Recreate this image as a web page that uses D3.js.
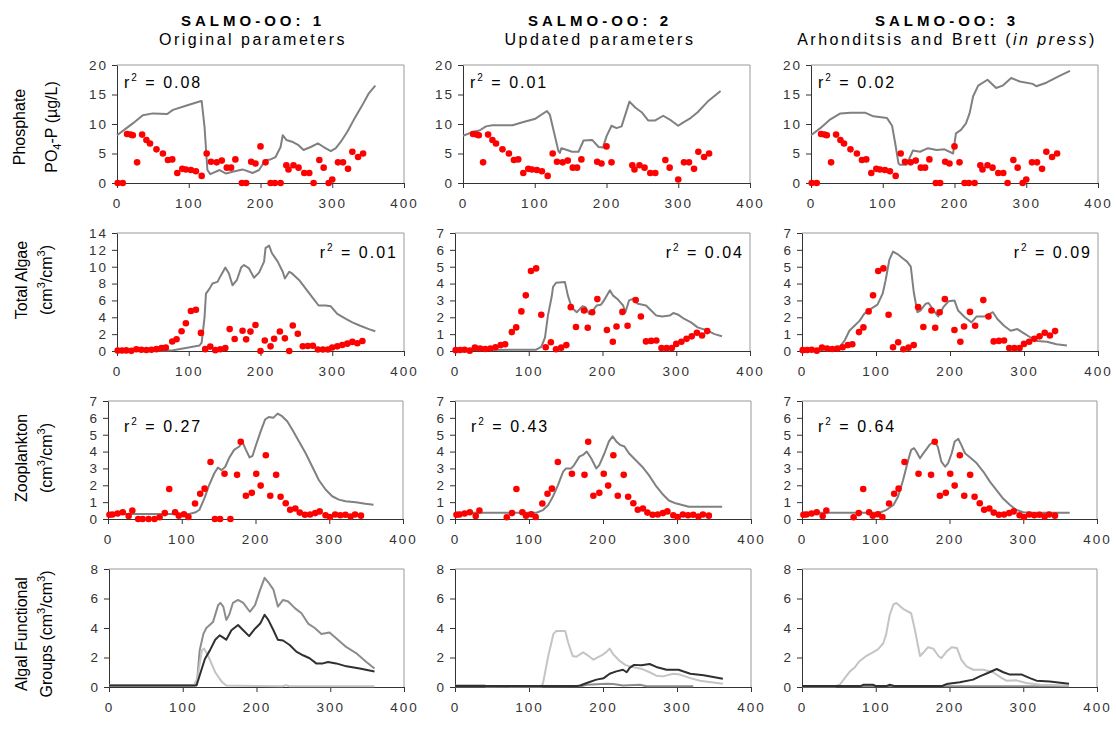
<!DOCTYPE html>
<html>
<head>
<meta charset="UTF-8">
<title>SALMO-OO</title>
<style>
body{margin:0;background:#fff;}
svg{font-family:"Liberation Sans",Arial,sans-serif;}
.axis text{font-family:"Liberation Sans",Arial,sans-serif;font-size:13.5px;fill:#333;letter-spacing:2px;}
.axis path,.axis line{stroke:#333;}
</style>
</head>
<body>
<svg width="1116" height="749"></svg>
<script src="https://cdn.jsdelivr.net/npm/d3@7"></script>
<script>
// column headings and row labels
var colTitles = ["SALMO-OO: 1", "SALMO-OO: 2", "SALMO-OO: 3"];
var colSubtitles = [[["Original parameters", ""]], [["Updated parameters", ""]],
  [["Arhonditsis and Brett (", ""], ["in press", "i"], [")", ""]]];
var rowLabels = [
  [[["Phosphate", ""]], [["PO", ""], ["4", "sub"], ["-P (\u00b5g/L)", ""]]],
  [[["Total Algae", ""]], [["(cm", ""], ["3", "sup"], ["/cm", ""], ["3", "sup"], [")", ""]]],
  [[["Zooplankton", ""]], [["(cm", ""], ["3", "sup"], ["/cm", ""], ["3", "sup"], [")", ""]]],
  [[["Algal Functional", ""]], [["Groups (cm", ""], ["3", "sup"], ["/cm", ""], ["3", "sup"], [")", ""]]]
];

// ticks
var xTicks = [0, 100, 200, 300, 400];
var yTicksPhos = [0, 5, 10, 15, 20];
var yTicksAlgae1 = [0, 2, 4, 6, 8, 10, 12, 14];
var yTicksSeven = [0, 1, 2, 3, 4, 5, 6, 7];
var yTicksGroups = [0, 2, 4, 6, 8];

// r squared
var r2Phos = ["0.08", "0.01", "0.02"];
var r2Algae = ["0.01", "0.04", "0.09"];
var r2Zoo = ["0.27", "0.43", "0.64"];

// observed data [day, value]
var obsPhos = [[1,0],[8,0],[14,8.3],[19,8.2],[22,8.1],[28,3.5],[35,8.2],[41,7.3],[46,6.7],[55,5.7],[64,5.0],[71,3.9],[77,4.0],[84,1.7],[91,2.4],[96,2.3],[103,2.2],[110,2.0],[118,1.2],[125,5.0],[131,3.6],[139,3.5],[146,3.8],[153,2.6],[159,2.6],[165,4.0],[174,0],[180,0],[187,3.6],[193,3.3],[200,6.2],[207,3.5],[214,0],[220,0],[228,0],[236,3.0],[239,2.3],[246,3.0],[253,2.6],[261,1.7],[268,1.7],[274,0],[282,3.9],[288,2.6],[295,0],[300,0.6],[308,3.5],[315,3.5],[322,2.4],[328,5.3],[336,4.4],[343,5.0]];
var obsAlgae = [[1,0.05],[7,0.06],[13,0.07],[20,0.02],[27,0.2],[34,0.15],[41,0.12],[48,0.15],[55,0.22],[62,0.35],[68,0.4],[77,1.12],[83,1.4],[90,2.35],[96,3.3],[103,4.75],[110,4.9],[117,2.15],[123,0.22],[130,0.52],[137,0.1],[144,0.2],[151,0.35],[157,2.6],[164,1.42],[175,2.4],[180,1.38],[186,2.3],[193,3.08],[200,0],[206,1.25],[214,0.55],[219,1.45],[227,2.32],[234,1.5],[240,0],[245,3.02],[252,2.05],[259,0.57],[266,0.6],[273,0.62],[280,0.18],[287,0.17],[294,0.18],[300,0.42],[307,0.55],[314,0.72],[321,0.87],[328,1.08],[335,0.92],[342,1.18]];
var obsZoo = [[2,0.25],[6,0.27],[13,0.33],[20,0.4],[28,0.18],[33,0.5],[41,0],[47,0],[55,0],[63,0],[70,0.1],[77,0.35],[83,1.78],[91,0.4],[96,0.2],[103,0.28],[109,0.12],[118,0.92],[125,1.5],[131,1.8],[139,3.38],[145,0],[152,0],[158,2.68],[166,0],[175,2.62],[180,4.58],[187,1.38],[195,1.55],[201,2.68],[207,1.98],[214,3.78],[220,1.38],[228,2.62],[234,1.32],[241,0.93],[247,0.55],[254,0.62],[260,0.38],[267,0.25],[274,0.27],[281,0.35],[287,0.45],[295,0.22],[301,0.12],[308,0.27],[315,0.22],[322,0.25],[329,0.15],[335,0.27],[343,0.2]];

// model output [day, value]
var modPhos1 = [[0,8.1],[10,9.0],[22,10.1],[36,11.5],[50,11.8],[70,11.7],[78,12.4],[96,13.1],[115,13.8],[118,13.9],[122,9.5],[126,2.2],[130,1.5],[143,2.2],[152,1.6],[161,1.9],[175,2.3],[189,1.7],[198,2.2],[207,3.9],[214,4.0],[221,4.4],[228,6.1],[231,8.1],[236,7.3],[244,7.0],[253,6.4],[260,5.6],[270,6.1],[280,6.7],[288,6.1],[298,5.4],[305,5.9],[312,7.0],[321,8.7],[330,10.7],[342,13.2],[351,15.2],[360,16.5]];
var modPhos2 = [[0,8.0],[16,8.75],[23,8.9],[32,9.6],[41,9.8],[69,9.8],[83,10.3],[101,10.9],[117,12.2],[121,11.6],[127,8.5],[133,5.4],[135,5.1],[137,5.9],[145,5.6],[152,5.3],[161,5.3],[168,7.2],[180,7.3],[189,6.1],[195,6.0],[200,7.9],[207,9.7],[214,9.3],[221,9.6],[232,13.8],[240,12.8],[249,12.0],[258,10.6],[268,10.6],[279,11.4],[290,10.6],[300,9.7],[306,10.2],[316,10.9],[327,12.0],[341,13.8],[359,15.6]];
var modPhos3 = [[0,8.1],[13,9.3],[27,10.8],[41,11.8],[55,11.9],[76,11.9],[87,11.3],[106,11.0],[113,9.7],[117,7.0],[122,3.3],[124,3.1],[133,3.1],[138,4.4],[142,5.5],[152,5.3],[163,5.9],[175,5.6],[186,5.7],[198,5.0],[202,8.4],[209,9.0],[216,10.1],[221,11.8],[226,14.7],[233,16.5],[246,17.5],[258,16.1],[267,16.5],[279,17.8],[291,17.2],[309,16.8],[314,16.4],[328,17.0],[347,18.2],[361,19.0]];
var modAlgae1 = [[0,0.05],[70,0.05],[78,0.1],[96,0.35],[115,0.65],[118,1.0],[122,4.0],[124,6.8],[129,7.4],[133,8.0],[140,8.2],[145,9.0],[151,9.9],[156,9.2],[161,7.8],[167,8.4],[173,9.9],[177,10.2],[184,9.8],[191,8.7],[198,9.3],[205,10.6],[207,12.2],[212,12.5],[216,11.6],[224,10.6],[231,9.4],[234,8.6],[240,9.4],[244,9.2],[254,8.4],[263,7.4],[272,6.4],[281,5.4],[291,5.4],[298,5.3],[307,4.4],[319,3.8],[328,3.4],[339,3.0],[351,2.6],[360,2.35]];
var modAlgae2 = [[0,0.05],[110,0.08],[117,0.25],[122,0.8],[126,2.1],[131,3.2],[133,3.8],[137,4.05],[149,4.1],[153,3.3],[158,2.6],[165,2.3],[173,2.65],[177,2.6],[182,2.2],[187,2.4],[192,2.7],[198,2.75],[202,3.0],[210,3.6],[214,3.3],[221,3.05],[228,2.7],[231,2.3],[236,3.0],[242,3.1],[248,2.8],[259,2.7],[266,2.4],[273,2.1],[281,2.05],[291,2.1],[296,2.25],[302,2.17],[311,1.9],[320,1.7],[329,1.4],[343,1.2],[352,1.0],[362,0.88]];
var modAlgae3 = [[0,0.1],[45,0.12],[51,0.25],[58,0.65],[64,1.2],[71,1.5],[78,1.8],[84,2.2],[93,2.5],[102,2.75],[109,3.4],[113,4.2],[118,5.4],[123,5.9],[129,5.75],[136,5.5],[142,5.3],[147,5.0],[151,3.5],[156,2.3],[160,2.4],[167,2.8],[171,2.85],[178,2.4],[184,2.05],[191,2.6],[198,2.95],[206,3.0],[211,2.4],[220,2.0],[229,1.7],[236,2.05],[247,2.05],[258,2.3],[264,1.9],[273,1.5],[282,1.2],[291,1.3],[300,1.05],[309,0.8],[318,0.6],[331,0.55],[344,0.4],[358,0.33]];
var modZoo1 = [[0,0.3],[110,0.3],[119,0.4],[124,0.55],[131,1.25],[137,2.0],[144,2.7],[149,3.05],[154,2.9],[159,3.1],[164,3.6],[171,4.1],[178,4.3],[182,4.6],[187,4.1],[192,3.65],[196,3.75],[200,4.3],[207,5.2],[213,5.9],[218,6.05],[224,6.0],[230,6.25],[236,6.1],[243,5.8],[250,5.3],[259,4.6],[268,3.9],[277,3.1],[286,2.3],[295,1.75],[304,1.35],[313,1.15],[322,1.05],[336,1.0],[349,0.9],[360,0.85]];
var modZoo2 = [[0,0.37],[110,0.37],[119,0.53],[126,0.83],[132,1.3],[139,2.0],[146,2.8],[150,3.0],[157,3.0],[161,3.2],[168,3.7],[173,3.8],[178,4.0],[184,3.6],[191,3.0],[195,3.2],[202,3.9],[208,4.6],[213,4.9],[218,4.6],[223,4.4],[229,4.3],[235,3.9],[244,3.5],[253,3.1],[262,2.6],[271,2.0],[280,1.5],[289,1.1],[298,0.93],[307,0.83],[316,0.73],[361,0.73]];
var modZoo3 = [[0,0.37],[105,0.37],[114,0.53],[124,0.83],[130,1.3],[137,2.3],[144,3.5],[148,4.1],[152,4.2],[155,4.0],[160,3.6],[163,3.8],[168,4.1],[173,4.4],[179,4.6],[184,4.3],[189,3.4],[194,3.1],[198,3.3],[203,3.9],[207,4.6],[212,4.75],[216,4.4],[221,3.9],[228,3.65],[237,3.3],[246,2.8],[255,2.2],[264,1.7],[273,1.2],[282,0.83],[291,0.53],[300,0.4],[314,0.37],[363,0.37]];

// algal functional groups: mid grey, light grey, dark
var grpMid1 = [[0,0.1],[115,0.1],[119,0.15],[123,2.5],[128,3.6],[132,4.0],[141,4.4],[148,5.55],[151,5.7],[155,5.45],[159,4.55],[163,4.9],[168,5.7],[175,5.9],[182,5.7],[191,5.1],[198,5.55],[205,6.6],[211,7.4],[216,7.1],[223,6.6],[229,5.45],[236,5.9],[243,5.8],[252,5.35],[261,5.0],[270,4.3],[279,4.0],[288,3.6],[299,3.7],[308,3.3],[322,2.7],[335,2.3],[349,1.7],[360,1.25]];
var grpLight1 = [[0,0.1],[115,0.1],[120,0.6],[123,1.6],[126,2.5],[129,2.6],[135,2.05],[144,1.0],[153,0.35],[159,0.1],[235,0.05],[240,0.12],[245,0.05],[360,0.05]];
var grpDark1 = [[0,0.1],[118,0.1],[119,0.15],[123,0.8],[130,1.9],[137,2.5],[144,3.2],[150,3.5],[155,3.35],[159,3.2],[166,3.85],[175,4.2],[182,3.85],[190,3.45],[198,3.95],[205,4.3],[211,4.9],[216,4.55],[223,3.85],[229,3.2],[236,3.15],[245,2.85],[254,2.4],[263,2.15],[272,1.95],[281,1.6],[290,1.6],[297,1.7],[308,1.6],[322,1.4],[340,1.25],[360,1.05]];
var grpMid2 = [[0,0.1],[40,0.1],[42,0.04],[170,0.05],[178,0.15],[205,0.22],[214,0.2],[227,0.1],[250,0.15],[259,0.05],[322,0.05]];
var grpLight2 = [[0,0.05],[117,0.05],[119,0.27],[126,2.1],[133,3.6],[137,3.8],[149,3.8],[153,3.0],[159,2.1],[164,2.05],[173,2.35],[178,2.2],[187,1.85],[196,2.1],[200,2.2],[205,2.4],[209,2.6],[214,2.2],[223,1.75],[230,1.5],[236,1.4],[245,1.3],[254,1.2],[263,1.0],[272,0.77],[281,0.72],[295,0.9],[304,0.84],[318,0.6],[331,0.43],[362,0.22]];
var grpDark2 = [[0,0.07],[165,0.07],[169,0.1],[178,0.27],[191,0.5],[201,0.6],[209,0.9],[218,1.06],[227,1.17],[232,1.0],[236,1.3],[242,1.5],[252,1.47],[263,1.56],[272,1.36],[286,1.17],[302,1.17],[318,0.9],[336,0.8],[362,0.56]];
var grpMid3 = [[0,0.05],[362,0.05]];
var grpLight3 = [[0,0.05],[45,0.05],[51,0.15],[58,0.6],[65,1.06],[71,1.3],[78,1.75],[87,2.1],[96,2.35],[103,2.55],[110,2.95],[114,3.55],[119,4.9],[124,5.6],[128,5.7],[137,5.3],[148,5.0],[153,3.9],[160,2.1],[164,2.3],[171,2.7],[178,2.6],[185,2.1],[189,1.95],[196,2.4],[203,2.7],[210,2.65],[216,1.85],[223,1.4],[232,1.17],[246,1.17],[259,1.0],[271,0.6],[277,0.43],[291,0.45],[304,0.27],[323,0.16],[362,0.1]];
var grpDark3 = [[0,0.07],[80,0.07],[83,0.15],[96,0.15],[100,0.07],[115,0.07],[119,0.15],[125,0.07],[190,0.07],[196,0.2],[214,0.32],[232,0.5],[241,0.72],[252,0.95],[264,1.22],[273,1.0],[282,0.84],[298,0.84],[309,0.6],[318,0.43],[336,0.38],[362,0.22]];

// layout
var rowTop = [65, 233, 401, 569], plotH = 118;
var panelLeft = [[117, 463, 811], [117, 455, 802], [108, 455, 802], [109, 455, 802]];
var panelWidth = [[287, 287, 287], [287, 295, 296], [295, 296, 295], [295, 296, 295]];
var titleX = [253, 600, 947];
var labelY = [127, 280, 458, 634];
var labelX = [[25, 57], [27, 52], [27, 52], [27, 52]];

var svg = d3.select("svg");

// append text pieces, with superscript / subscript / italic runs
function addParts(text, parts, supSize) {
  parts.forEach(function(p, i) {
    var t = text.append("tspan").text(p[0]);
    if (p[1] == "sup") t.attr("font-size", supSize).attr("dy", -7);
    else if (p[1] == "sub") t.attr("font-size", supSize).attr("dy", 4);
    else if (p[1] == "i") t.style("font-style", "italic");
    var last = parts[i - 1];
    if (p[1] != "sup" && p[1] != "sub" && last) {
      if (last[1] == "sup") t.attr("dy", 7);
      if (last[1] == "sub") t.attr("dy", -4);
    }
  });
}

function drawPanel(r, c, yTicks, lines, obs, showZero, r2, r2Right) {
  var x0 = panelLeft[r][c], w = panelWidth[r][c];
  var x = d3.scaleLinear().domain([0, 400]).range([0, w]);
  var y = d3.scaleLinear().domain([0, yTicks[yTicks.length - 1]]).range([plotH, 0]);
  var g = svg.append("g").attr("transform", "translate(" + x0 + "," + rowTop[r] + ")");

  g.append("path").attr("d", "M0,0H" + w + "V" + plotH)
    .attr("fill", "none").attr("stroke", "#999");
  g.append("g").attr("class", "axis")
    .call(d3.axisLeft(y).tickValues(yTicks).tickFormat(d3.format("d"))
      .tickSize(5).tickPadding(4).tickSizeOuter(0));
  g.append("g").attr("class", "axis").attr("transform", "translate(0," + plotH + ")")
    .call(d3.axisBottom(x).tickValues(xTicks).tickFormat(d3.format("d"))
      .tickSize(5).tickPadding(10).tickSizeOuter(0));

  var line = d3.line().x(function(d) { return x(d[0]); }).y(function(d) { return y(d[1]); });
  lines.forEach(function(l) {
    g.append("path").datum(l.d).attr("d", line)
      .attr("fill", "none").attr("stroke", l.c).attr("stroke-width", 2)
      .attr("stroke-linejoin", "round");
  });

  if (obs) {
    g.selectAll(".dot").data(obs.filter(function(d) { return showZero || d[1] > 0; }))
      .enter().append("circle").attr("class", "dot")
      .attr("cx", function(d) { return x(d[0]); })
      .attr("cy", function(d) { return y(d[1]); })
      .attr("r", 3.3).attr("fill", "#ff0000");
  }

  if (r2) {
    var t = g.append("text").attr("font-size", 16).style("letter-spacing", "2px")
      .attr("x", r2Right ? w - 6 : (r == 2 ? 16 : 7))
      .attr("y", r == 0 ? 23 : (r == 1 ? 25 : 31))
      .attr("text-anchor", r2Right ? "end" : "start");
    addParts(t, [["r", ""], ["2", "sup"], [" = " + r2, ""]], 10);
  }
}

var grey = "#808080";
for (var c = 0; c < 3; c++) {
  drawPanel(0, c, yTicksPhos, [{d: [modPhos1, modPhos2, modPhos3][c], c: grey}], obsPhos, c != 1, r2Phos[c], false);
  drawPanel(1, c, c == 0 ? yTicksAlgae1 : yTicksSeven, [{d: [modAlgae1, modAlgae2, modAlgae3][c], c: grey}], obsAlgae, c == 0, r2Algae[c], true);
  drawPanel(2, c, yTicksSeven, [{d: [modZoo1, modZoo2, modZoo3][c], c: grey}], obsZoo, c == 0, r2Zoo[c], false);
  drawPanel(3, c, yTicksGroups, [
    {d: [grpMid1, grpMid2, grpMid3][c], c: "#8c8c8c"},
    {d: [grpLight1, grpLight2, grpLight3][c], c: "#c4c4c4"},
    {d: [grpDark1, grpDark2, grpDark3][c], c: "#303030"}
  ], null, false, null, false);
}

// column headings
titleX.forEach(function(tx, i) {
  svg.append("text").attr("x", tx).attr("y", 26).attr("text-anchor", "middle")
    .attr("font-size", 15).attr("font-weight", "bold").style("letter-spacing", "4px")
    .text(colTitles[i]);
  var s = svg.append("text").attr("x", tx).attr("y", 45).attr("text-anchor", "middle")
    .attr("font-size", 16).style("letter-spacing", "2.5px");
  addParts(s, colSubtitles[i], 16);
});

// row labels
rowLabels.forEach(function(lbl, r) {
  lbl.forEach(function(parts, k) {
    var t = svg.append("text").attr("font-size", 16).attr("text-anchor", "middle")
      .attr("transform", "translate(" + labelX[r][k] + "," + labelY[r] + ") rotate(-90)");
    addParts(t, parts, 11);
  });
});
</script>
</body>
</html>
